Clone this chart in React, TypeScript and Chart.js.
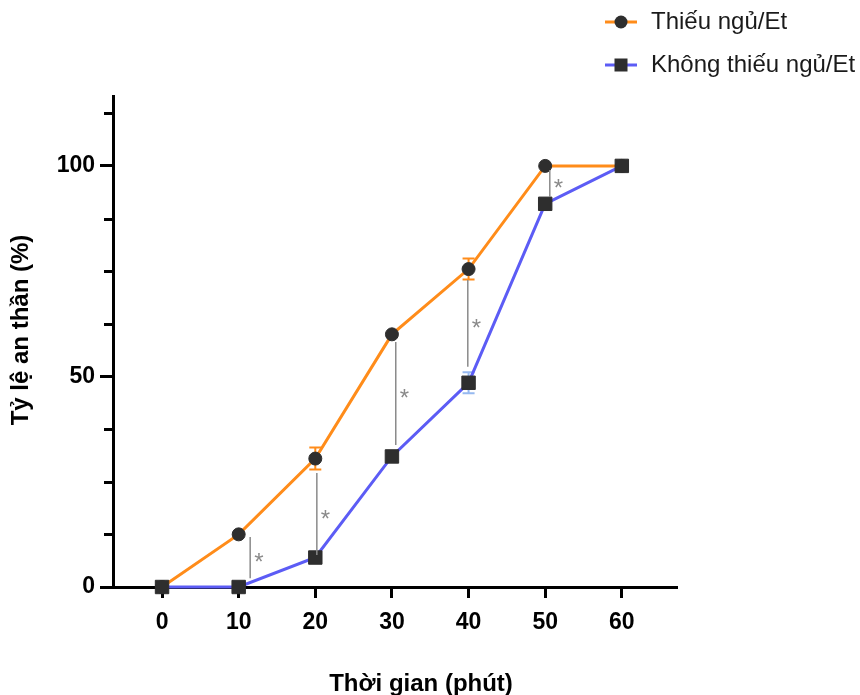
import React, { useEffect, useRef } from "react";
import { Chart, registerables } from "chart.js";

Chart.register(...registerables);

// ---- Data ----
const timePoints = [0, 10, 20, 30, 40, 50, 60];
const sleepDeprived = [0, 12.5, 30.5, 60, 75.5, 100, 100];
const sleepDeprivedErr = [0, 0, 2.6, 0, 2.5, 0, 0];
const notDeprived = [0, 0, 7, 31, 48.5, 91, 100];
const notDeprivedErr = [0, 0, 0, 0, 2.5, 0, 0];
const seriesNames = ["Thiếu ngủ/Et", "Không thiếu ngủ/Et"];
const xTicks = [0, 10, 20, 30, 40, 50, 60];
const yTicks = [0, 50, 100];
const yMinorTicks = [12.5, 25, 37.5, 62.5, 75, 87.5, 112.5];
// significance annotations (data units)
const sigX = [11.5, 20.2, 30.5, 39.9, 50.6];
const sigTop = [11.9, 27.1, 58.2, 72.9, 99];
const sigBottom = [2.1, 7.6, 33.7, 52.3, 92.6];
const xTitle = "Thời gian (phút)";
const yTitle = "Tỷ lệ an thần (%)";

const ORANGE = "rgb(255,140,26)";
const BLUE = "rgb(92,92,245)";
const BLUE_ERR = "rgb(150,185,240)";
const MARKER = "#2e2e2e";
const FONT = '"Liberation Sans", Arial, sans-serif';

const annotPlugin = {
  id: "annot",
  beforeDatasetsDraw(chart: any) {
    const ctx = chart.ctx;
    const xs = chart.scales.x;
    const ys = chart.scales.y;
    const drawErr = (vals: number[], errs: number[], color: string) => {
      ctx.save();
      ctx.strokeStyle = color;
      ctx.lineWidth = 2;
      vals.forEach((v, i) => {
        const e = errs[i];
        if (!e) return;
        const x = xs.getPixelForValue(timePoints[i]);
        const yt = ys.getPixelForValue(v + e);
        const yb = ys.getPixelForValue(v - e);
        ctx.beginPath();
        ctx.moveTo(x, yt);
        ctx.lineTo(x, yb);
        ctx.moveTo(x - 6, yt);
        ctx.lineTo(x + 6, yt);
        ctx.moveTo(x - 6, yb);
        ctx.lineTo(x + 6, yb);
        ctx.stroke();
      });
      ctx.restore();
    };
    drawErr(sleepDeprived, sleepDeprivedErr, ORANGE);
    drawErr(notDeprived, notDeprivedErr, BLUE_ERR);
  },
  afterDatasetsDraw(chart: any) {
    const ctx = chart.ctx;
    const xs = chart.scales.x;
    const ys = chart.scales.y;
    ctx.save();
    sigX.forEach((sx, i) => {
      const x = xs.getPixelForValue(sx);
      const yt = ys.getPixelForValue(sigTop[i]);
      const yb = ys.getPixelForValue(sigBottom[i]);
      ctx.strokeStyle = "#8a8a8a";
      ctx.lineWidth = 1.5;
      ctx.beginPath();
      ctx.moveTo(x, yt);
      ctx.lineTo(x, yb);
      ctx.stroke();
      ctx.fillStyle = "#8a8a8a";
      ctx.font = `24px ${FONT}`;
      ctx.textAlign = "left";
      ctx.textBaseline = "middle";
      ctx.fillText("*", x + 4, (yt + yb) / 2 + 6);
    });
    ctx.restore();
  },
  afterDraw(chart: any) {
    const ctx = chart.ctx;
    const ys = chart.scales.y;
    const left = chart.chartArea.left;
    ctx.save();
    // minor y ticks
    ctx.strokeStyle = "#000";
    ctx.lineWidth = 3;
    yMinorTicks.forEach((v) => {
      const y = Math.round(ys.getPixelForValue(v)) + 0.5;
      ctx.beginPath();
      ctx.moveTo(left - 9, y);
      ctx.lineTo(left, y);
      ctx.stroke();
    });
    // legend
    const rows = [
      { name: seriesNames[0], color: ORANGE, shape: "circle", y: 22 },
      { name: seriesNames[1], color: BLUE, shape: "rect", y: 65 },
    ];
    rows.forEach((r) => {
      ctx.strokeStyle = r.color;
      ctx.lineWidth = 3;
      ctx.beginPath();
      ctx.moveTo(605, r.y);
      ctx.lineTo(637, r.y);
      ctx.stroke();
      ctx.fillStyle = MARKER;
      if (r.shape === "circle") {
        ctx.beginPath();
        ctx.arc(621, r.y, 6.5, 0, Math.PI * 2);
        ctx.fill();
      } else {
        ctx.fillRect(621 - 6.5, r.y - 6.5, 13, 13);
      }
      ctx.fillStyle = "#1a1a1a";
      ctx.font = `24px ${FONT}`;
      ctx.textAlign = "left";
      ctx.textBaseline = "middle";
      ctx.fillText(r.name, 651, r.y);
    });
    // axis titles
    ctx.fillStyle = "#000";
    ctx.font = `bold 24px ${FONT}`;
    ctx.textAlign = "center";
    ctx.textBaseline = "middle";
    ctx.fillText(xTitle, 421, 684);
    ctx.translate(21, 330);
    ctx.rotate(-Math.PI / 2);
    ctx.fillText(yTitle, 0, 0);
    ctx.restore();
  },
};

export default function App() {
  const ref = useRef<HTMLCanvasElement | null>(null);
  useEffect(() => {
    if (!ref.current) return;
    const chart = new Chart(ref.current, {
      type: "line",
      data: {
        datasets: [
          {
            label: seriesNames[0],
            data: timePoints.map((t, i) => ({ x: t, y: sleepDeprived[i] })),
            borderColor: ORANGE,
            backgroundColor: MARKER,
            borderWidth: 3,
            pointStyle: "circle",
            pointRadius: 6.5,
            pointBorderWidth: 1,
            pointBorderColor: MARKER,
            pointBackgroundColor: MARKER,
            clip: false,
            order: 2,
          },
          {
            label: seriesNames[1],
            data: timePoints.map((t, i) => ({ x: t, y: notDeprived[i] })),
            borderColor: BLUE,
            backgroundColor: MARKER,
            borderWidth: 3,
            pointStyle: "rect",
            pointRadius: 9.5,
            pointBorderWidth: 1,
            pointBorderColor: MARKER,
            pointBackgroundColor: MARKER,
            clip: false,
            order: 1,
          },
        ],
      },
      options: {
        responsive: false,
        maintainAspectRatio: false,
        animation: false,
        layout: { padding: { top: 96, right: 183, left: 0, bottom: 0 } },
        plugins: { legend: { display: false }, tooltip: { enabled: false } },
        scales: {
          x: {
            type: "linear",
            min: -6.4,
            max: 67.2,
            afterBuildTicks: (s: any) => {
              s.ticks = xTicks.map((v) => ({ value: v }));
            },
            afterFit: (s: any) => {
              s.height = 108;
            },
            grid: {
              drawOnChartArea: false,
              drawTicks: true,
              tickLength: 11,
              tickWidth: 3,
              tickColor: "#000",
            },
            border: { color: "#000", width: 3 },
            ticks: {
              color: "#000",
              padding: 11,
              font: { family: FONT, size: 23, weight: "bold" },
            },
          },
          y: {
            type: "linear",
            min: 0,
            max: 116.6,
            afterBuildTicks: (s: any) => {
              s.ticks = yTicks.map((v) => ({ value: v }));
            },
            afterFit: (s: any) => {
              s.width = 113;
            },
            grid: {
              drawOnChartArea: false,
              drawTicks: true,
              tickLength: 13,
              tickWidth: 3,
              tickColor: "#000",
            },
            border: { color: "#000", width: 3 },
            ticks: {
              color: "#000",
              padding: 5,
              font: { family: FONT, size: 23, weight: "bold" },
            },
          },
        },
      },
      plugins: [annotPlugin],
    } as any);
    return () => chart.destroy();
  }, []);
  return (
    <div style={{ position: "absolute", left: 0, top: 0, width: 860, height: 695 }}>
      <canvas ref={ref} width={860} height={695} style={{ width: 860, height: 695 }} />
    </div>
  );
}
